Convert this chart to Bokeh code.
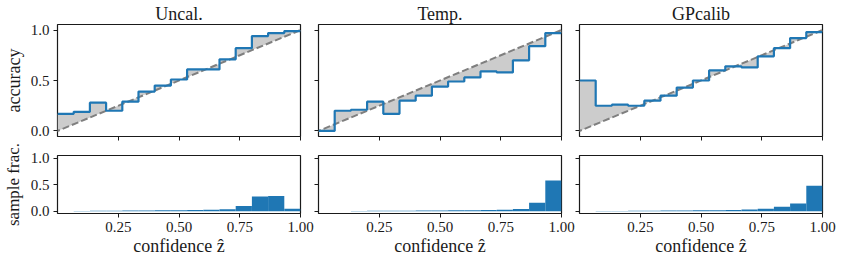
import numpy as np
from bokeh.plotting import figure
from bokeh.layouts import column, row
from bokeh.models import Range1d, FixedTicker, Slope
from bokeh.embed import file_html
from bokeh.resources import INLINE

# ---------------- data ----------------
titles = ["Uncal.", "Temp.", "GPcalib"]
n_bins = 15
bin_edges = np.linspace(0.0, 1.0, n_bins + 1)

acc_uncal = [0.17, 0.19, 0.28, 0.20, 0.29, 0.39, 0.45, 0.51, 0.61, 0.61, 0.71, 0.82, 0.94, 0.97, 0.99]
acc_temp = [0.00, 0.20, 0.21, 0.29, 0.17, 0.30, 0.35, 0.44, 0.49, 0.53, 0.59, 0.58, 0.70, 0.84, 0.97]
acc_gp = [0.50, 0.25, 0.26, 0.25, 0.30, 0.35, 0.43, 0.50, 0.60, 0.64, 0.63, 0.74, 0.82, 0.92, 0.98]

frac_uncal = [0.001, 0.005, 0.010, 0.012, 0.015, 0.015, 0.020, 0.022, 0.025, 0.030, 0.040, 0.100, 0.280, 0.290, 0.050]
frac_temp = [0.001, 0.003, 0.007, 0.010, 0.010, 0.012, 0.015, 0.017, 0.020, 0.020, 0.025, 0.030, 0.045, 0.160, 0.580]
frac_gp = [0.002, 0.005, 0.008, 0.010, 0.012, 0.015, 0.017, 0.020, 0.022, 0.025, 0.037, 0.050, 0.086, 0.150, 0.480]

accs = [acc_uncal, acc_temp, acc_gp]
fracs = [frac_uncal, frac_temp, frac_gp]

x_ticks = [0.25, 0.5, 0.75, 1.0]
x_tick_labels = ["0.25", "0.50", "0.75", "1.00"]
y_ticks = [0.0, 0.5, 1.0]
y_tick_labels = ["0.0", "0.5", "1.0"]

# ---------------- style ----------------
FONT = "Liberation Serif"
BLUE = "#1f77b4"
INK = "#1a1a1a"
FRAME_W = 243
TOP_H = 112
BOT_H = 58
BORDERS_L = [48, 3, 3]
BORDERS_R = [14, 14, 14]


def style_axis(ax, ticks, labels, show):
    ax.ticker = FixedTicker(ticks=ticks)
    ax.major_label_overrides = {t: l for t, l in zip(ticks, labels)}
    ax.axis_line_color = None
    ax.major_tick_out = 4
    ax.major_tick_in = 0
    ax.minor_tick_line_color = None
    ax.major_tick_line_color = INK
    ax.major_tick_line_width = 1
    ax.major_label_text_font = FONT
    ax.major_label_text_color = INK
    ax.axis_label_text_font = FONT
    ax.axis_label_text_font_style = "normal"
    ax.axis_label_text_font_size = "18px"
    ax.axis_label_text_color = INK
    if show:
        ax.major_label_text_font_size = "15px"
        ax.major_label_standoff = 4
    else:
        ax.major_label_text_font_size = "0px"
        ax.major_label_standoff = 0


def style(p, show_x_labels, show_y_labels):
    p.outline_line_color = INK
    p.outline_line_width = 1.2
    p.xgrid.visible = False
    p.ygrid.visible = False
    p.background_fill_color = "white"
    p.border_fill_color = "white"
    style_axis(p.xaxis[0], x_ticks, x_tick_labels, show_x_labels)
    style_axis(p.yaxis[0], y_ticks, y_tick_labels, show_y_labels)


top_figs = []
bot_figs = []
for i in range(3):
    acc = np.asarray(accs[i])
    # ---- reliability diagram ----
    p = figure(
        frame_width=FRAME_W, frame_height=TOP_H,
        x_range=Range1d(0.0, 1.0), y_range=Range1d(-0.055, 1.055),
        output_backend="svg", toolbar_location=None, tools="",
        min_border_left=BORDERS_L[i], min_border_right=BORDERS_R[i],
        min_border_top=0, min_border_bottom=6,
        title=titles[i],
    )
    p.title.align = "center"
    p.title.text_font = FONT
    p.title.text_font_size = "18px"
    p.title.text_font_style = "normal"
    p.title.text_color = INK
    p.title.standoff = 2
    p.title.offset = 0

    xs = np.repeat(bin_edges, 2)[1:-1]
    ys = np.repeat(acc, 2)
    fill = p.varea(x=xs, y1=ys, y2=xs, fill_color="#cccccc", fill_alpha=1.0)
    fill.level = "image"
    diag = Slope(gradient=1, y_intercept=0, line_color="#7f7f7f", line_width=2,
                 line_dash="7 3", level="underlay")
    p.add_layout(diag)
    p.step(x=bin_edges, y=np.append(acc, acc[-1]), mode="after",
           line_color=BLUE, line_width=2.2)
    style(p, show_x_labels=False, show_y_labels=(i == 0))
    if i == 0:
        p.yaxis.axis_label = "accuracy"
        p.yaxis.axis_label_standoff = 4
    top_figs.append(p)

    # ---- sample fraction histogram ----
    q = figure(
        frame_width=FRAME_W, frame_height=BOT_H,
        x_range=Range1d(0.0, 1.0), y_range=Range1d(-0.04, 1.05),
        output_backend="svg", toolbar_location=None, tools="",
        min_border_left=BORDERS_L[i], min_border_right=BORDERS_R[i],
        min_border_top=13, min_border_bottom=0,
    )
    q.quad(left=bin_edges[:-1], right=bin_edges[1:], top=fracs[i], bottom=0,
           fill_color=BLUE, line_color=None)
    style(q, show_x_labels=True, show_y_labels=(i == 0))
    q.xaxis.major_label_standoff = 4
    q.xaxis.axis_label = "confidence ẑ"
    q.xaxis.axis_label_standoff = 1
    if i == 0:
        q.yaxis.axis_label = "sample frac."
        q.yaxis.axis_label_text_font_size = "17px"
        q.yaxis.axis_label_standoff = 5
    bot_figs.append(q)

layout = column(row(*top_figs, spacing=0), row(*bot_figs, spacing=0), spacing=0)

open("out.html", "w").write(file_html(layout, INLINE))
